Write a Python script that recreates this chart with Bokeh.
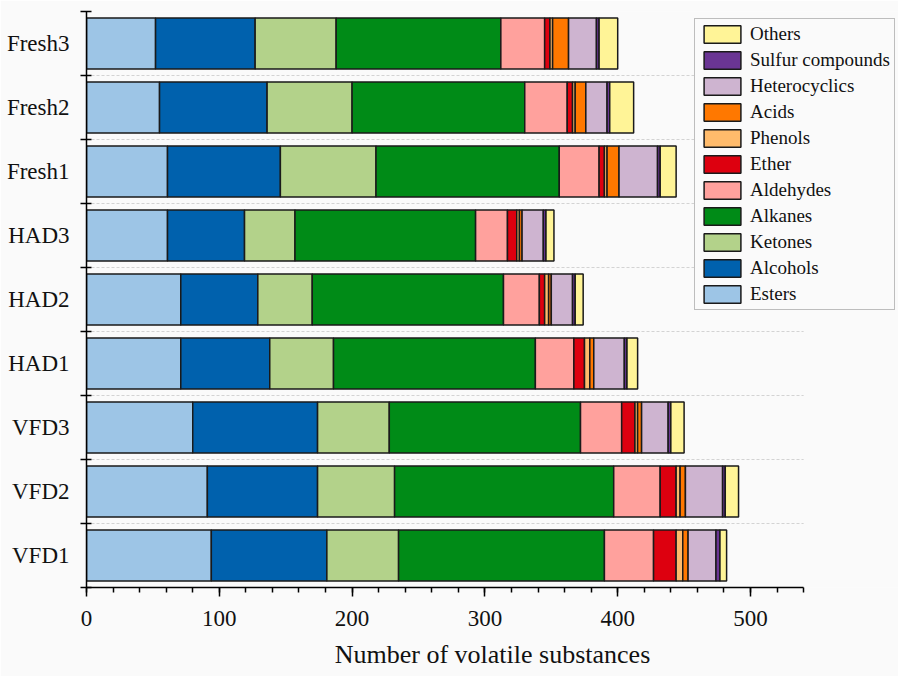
from bokeh.plotting import figure
from bokeh.models import (ColumnDataSource, Range1d, FixedTicker, SingleIntervalTicker,
                          Legend, LegendItem)
from bokeh.embed import file_html
from bokeh.resources import INLINE

samples = ["VFD1", "VFD2", "VFD3", "HAD1", "HAD2", "HAD3", "Fresh1", "Fresh2", "Fresh3"]

classes = ["Esters", "Alcohols", "Ketones", "Alkanes", "Aldehydes", "Ether",
           "Phenols", "Acids", "Heterocyclics", "Sulfur compounds", "Others"]

esters        = [94, 91, 80, 71, 71, 61, 61, 55, 52]
alcohols      = [87, 83, 94, 67, 58, 58, 85, 81, 75]
ketones       = [54, 58, 54, 48, 41, 38, 72, 64, 61]
alkanes       = [155, 165, 144, 152, 144, 136, 138, 130, 124]
aldehydes     = [37, 35, 31, 29, 27, 24, 30, 32, 33]
ether         = [17, 12, 10, 8, 4, 7, 4, 4, 4]
phenols       = [5, 3, 2, 4, 3, 2, 2, 2, 2]
acids         = [4, 4, 3, 3, 2, 2, 9, 8, 12]
heterocyclics = [21, 28, 20, 23, 16, 16, 29, 16, 21]
sulfur        = [3, 2, 2, 2, 2, 2, 2, 2, 2]
others        = [5, 10, 10, 8, 6, 6, 12, 18, 14]

colors = ["#9DC5E6", "#0061AD", "#B3D28A", "#008B17", "#FFA19D", "#DD000F",
          "#FFBB6B", "#FF7800", "#CEB4D0", "#6A3594", "#FFF497"]

x_axis_end = 540            # end of the drawn x axis
x_ticks_major = 100
x_ticks_minor = 5

ypos = [i + 0.5 for i in range(len(samples))]
boundaries = list(range(len(samples) + 1))
inner_bounds = boundaries[1:-1]

src = ColumnDataSource(dict(
    y=ypos,
    **{"Esters": esters, "Alcohols": alcohols, "Ketones": ketones, "Alkanes": alkanes,
       "Aldehydes": aldehydes, "Ether": ether, "Phenols": phenols, "Acids": acids,
       "Heterocyclics": heterocyclics, "Sulfur compounds": sulfur, "Others": others}))

BG = "#FAFAFA"
FONT = "Liberation Serif"

PX_PER_UNIT = 664 / 500
FRAME_W = 812
p = figure(frame_width=FRAME_W, frame_height=576,
           min_border_left=86, min_border_top=11, min_border_right=0, min_border_bottom=89,
           x_range=Range1d(0, FRAME_W / PX_PER_UNIT), y_range=Range1d(0, len(samples)),
           output_backend="svg", toolbar_location=None,
           background_fill_color=BG, border_fill_color=BG)
p.outline_line_color = None

# dashed separators between sample rows (spanning the drawn axis length)
p.segment(x0=[0] * len(inner_bounds), x1=[x_axis_end] * len(inner_bounds),
          y0=inner_bounds, y1=inner_bounds,
          line_color="#D3D3D3", line_dash="3 2", line_width=1)

renderers = p.hbar_stack(classes, y="y", height=0.8, source=src, color=colors,
                         line_color="#1a1a1a", line_width=1.5)

# y axis: labels at centres, ticks at band boundaries
p.yaxis.ticker = FixedTicker(ticks=ypos, minor_ticks=boundaries)
p.yaxis.major_label_overrides = {v: s for v, s in zip(ypos, samples)}
p.yaxis.major_tick_in = 0
p.yaxis.major_tick_out = 0
p.yaxis.minor_tick_in = 5
p.yaxis.minor_tick_out = 6
p.yaxis.major_label_standoff = 11

# x axis
p.xaxis.ticker = SingleIntervalTicker(interval=x_ticks_major, num_minor_ticks=x_ticks_minor)
p.xaxis.bounds = (0, x_axis_end)
p.xaxis.major_tick_in = 0
p.xaxis.major_tick_out = 9
p.xaxis.minor_tick_in = 0
p.xaxis.minor_tick_out = 5
p.xaxis.major_label_standoff = 14
p.xaxis.axis_label = "Number of volatile substances"
p.xaxis.axis_label_standoff = 11

for ax in (p.xaxis[0], p.yaxis[0]):
    ax.axis_line_color = "black"
    ax.axis_line_width = 1.5
    ax.major_tick_line_color = "black"
    ax.major_tick_line_width = 1.5
    ax.minor_tick_line_color = "black"
    ax.minor_tick_line_width = 1.5
    ax.major_label_text_font = FONT
    ax.major_label_text_font_size = "23px"
    ax.major_label_text_color = "#111111"
    ax.axis_label_text_font = FONT
    ax.axis_label_text_font_size = "26px"
    ax.axis_label_text_font_style = "normal"
    ax.axis_label_text_color = "#111111"

p.xgrid.grid_line_color = None
p.ygrid.grid_line_color = None

items = [LegendItem(label=c, renderers=[r]) for c, r in zip(classes, renderers)][::-1]
legend = Legend(items=items, location=(608, 277),
                glyph_width=46, glyph_height=22, label_height=22, spacing=4,
                padding=4, margin=0, label_standoff=5,
                label_text_font=FONT, label_text_font_size="19px",
                label_text_color="#111111",
                border_line_color="#808080", border_line_width=1.5,
                background_fill_color=BG, background_fill_alpha=1.0)
p.add_layout(legend, "center")

open("out.html", "w").write(file_html(p, INLINE))
